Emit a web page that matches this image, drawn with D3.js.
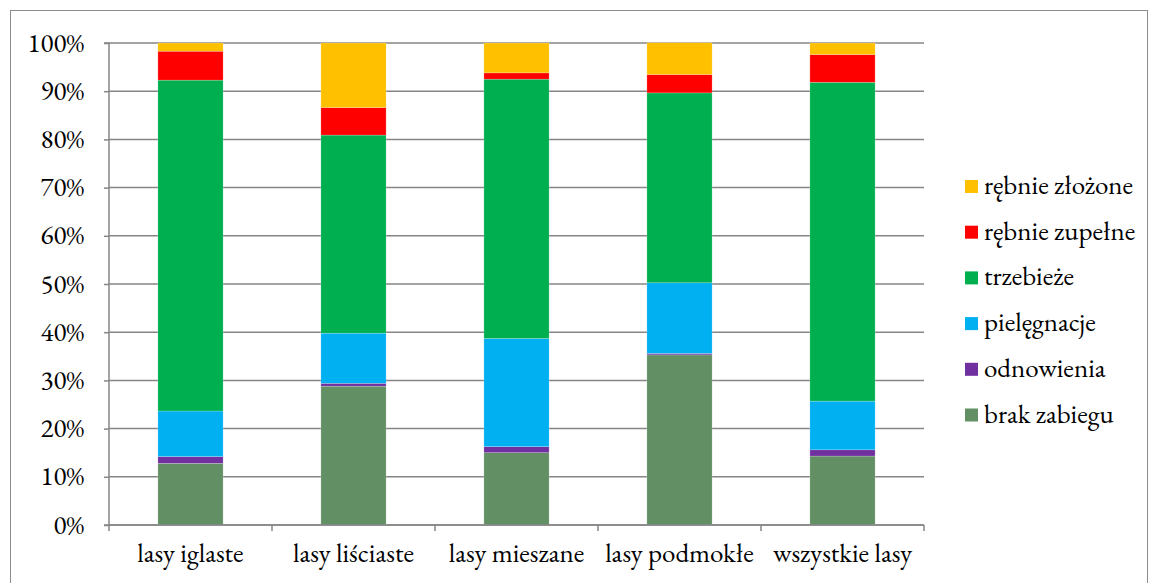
<!DOCTYPE html>
<html><head><meta charset="utf-8">
<script src="https://cdn.jsdelivr.net/npm/d3@7"></script>
<style>body{margin:0;background:#fff}svg{display:block}</style>
</head><body>
<script>
const categories = ["lasy iglaste","lasy liściaste","lasy mieszane","lasy podmokłe","wszystkie lasy"];
const seriesNames = ["brak zabiegu","odnowienia","pielęgnacje","trzebieże","rębnie zupełne","rębnie złożone"];
const brakZabiegu   = [12.8, 28.8, 15.0, 35.3, 14.3];
const odnowienia    = [1.4, 0.6, 1.25, 0.3, 1.3];
const pielegnacje   = [9.45, 10.4, 22.45, 14.65, 10.1];
const trzebieze     = [68.65, 41.1, 53.8, 39.4, 66.15];
const rebnieZupelne = [6.0, 5.7, 1.3, 3.8, 5.75];
const rebnieZlozone = [1.7, 13.4, 6.2, 6.6, 2.4];
const colors = ["#628F64","#7030A0","#00B0F0","#00B050","#FF0000","#FFC000"];
const yTicks = [0,10,20,30,40,50,60,70,80,90,100];

const seriesValues = [brakZabiegu, odnowienia, pielegnacje, trzebieze, rebnieZupelne, rebnieZlozone];
const table = categories.map((c,i)=>{const o={cat:c}; seriesNames.forEach((s,j)=>o[s]=seriesValues[j][i]); return o;});

const W=1153,H=583;
const svg=d3.select("body").append("svg").attr("width",W).attr("height",H);
const font="EB Garamond";
const fs=27;
svg.append("rect").attr("x",10.5).attr("y",10.5).attr("width",1137).attr("height",600)
  .attr("fill","none").attr("stroke","#8c8c8c").attr("stroke-width",1);

const pLeft=109,pRight=924,pTop=43,pBottom=525;
const x=d3.scaleBand().domain(categories).range([pLeft,pRight]).paddingInner(0.6).paddingOuter(0.3);
const xb=d3.scaleBand().domain(categories).range([pLeft,pRight]);
const y=d3.scaleLinear().domain([0,100]).range([pBottom,pTop]);

// gridlines
svg.append("g").selectAll("line").data(yTicks).join("line")
  .attr("x1",pLeft).attr("x2",pRight).attr("y1",d=>y(d)).attr("y2",d=>y(d))
  .attr("stroke","#868686").attr("stroke-width",1.5);

const stack=d3.stack().keys(seriesNames)(table);
svg.append("g").selectAll("g").data(stack).join("g").attr("fill",(d,i)=>colors[i])
  .selectAll("rect").data(d=>d).join("rect")
  .attr("x",d=>x(d.data.cat)).attr("width",x.bandwidth())
  .attr("y",d=>y(d[1])).attr("height",d=>y(d[0])-y(d[1]))
  .attr("stroke","rgba(255,255,255,0.35)").attr("stroke-width",0.6);

// y axis
const ya=svg.append("g").attr("transform",`translate(${pLeft},0)`)
  .call(d3.axisLeft(y).tickValues(yTicks).tickFormat(d=>d+"%").tickSize(5).tickPadding(20));
ya.select(".domain").attr("stroke","#868686").attr("stroke-width",1.5).attr("d",`M-5,${pTop}H0V${pBottom}H-5`);
ya.selectAll(".tick line").attr("stroke","#868686").attr("stroke-width",1.5);
ya.selectAll("text").style("font-family",font).style("font-size",fs+"px").attr("fill","#000").attr("dy","0.3em");

// x axis
const xa=svg.append("g").attr("transform",`translate(0,${pBottom})`);
xa.append("line").attr("x1",pLeft).attr("x2",pRight).attr("stroke","#868686").attr("stroke-width",1.5);
const bounds=categories.map(c=>xb(c)).concat([pRight]);
xa.selectAll(".tk").data(bounds).join("line").attr("class","tk")
  .attr("x1",d=>d).attr("x2",d=>d).attr("y1",0).attr("y2",6).attr("stroke","#868686").attr("stroke-width",1.5);
xa.selectAll("text").data(categories).join("text")
  .attr("x",d=>xb(d)+xb.bandwidth()/2).attr("y",37).attr("text-anchor","middle")
  .style("font-family",font).style("font-size",fs+"px").attr("fill","#000").text(d=>d);

// legend
const legOrder=seriesNames.map((s,i)=>({s,c:colors[i]})).reverse();
const lg=svg.append("g");
legOrder.forEach((d,i)=>{
  const cy=187+i*45.7;
  lg.append("rect").attr("x",965).attr("y",cy-7).attr("width",13).attr("height",13).attr("fill",d.c);
  lg.append("text").attr("x",984).attr("y",cy+7).style("font-family",font).style("font-size",fs+"px").attr("fill","#000").text(d.s);
});
</script>
</body></html>
